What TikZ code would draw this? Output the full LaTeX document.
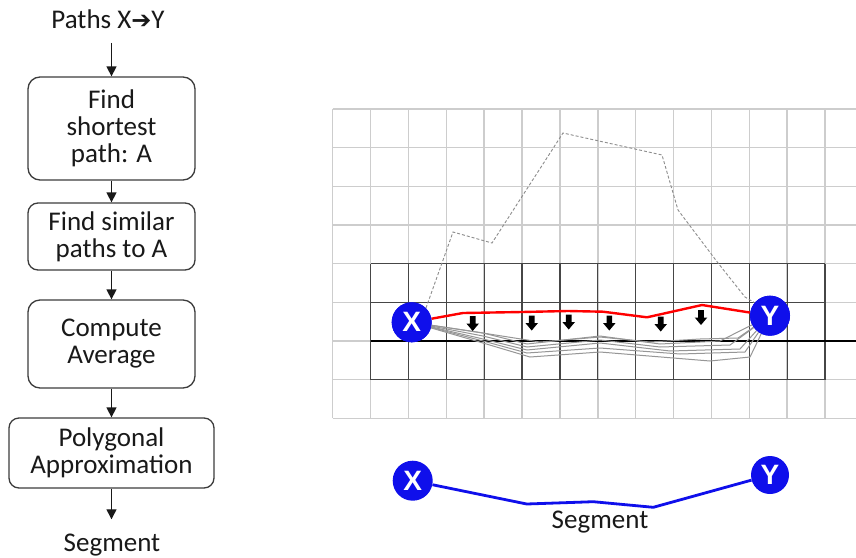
\documentclass[tikz,border=0pt]{standalone}
\usepackage{fontspec}
\setmainfont{Carlito}
\newfontfamily\lsans{Liberation Sans}
\newfontfamily\djv{DejaVu Sans}
\usetikzlibrary{arrows.meta}
\definecolor{nodeblue}{RGB}{15,15,235}
\definecolor{boxline}{RGB}{60,60,60}
\definecolor{lightgrid}{RGB}{205,205,205}
\definecolor{darkgrid}{RGB}{70,70,70}
\definecolor{simpath}{RGB}{150,150,150}
\definecolor{dashcol}{RGB}{140,140,140}
\begin{document}
\begin{tikzpicture}[x=1pt,y=-1pt,
  flowbox/.style={draw=boxline, line width=1.3pt, rounded corners=12pt, align=center,
    font=\fontsize{27}{27}\selectfont, text=black!90, inner sep=0pt},
  flowtext/.style={font=\fontsize{27}{27}\selectfont, text=black!90, inner sep=0pt},
  flow/.style={line width=1.4pt, draw=black!90, -{Triangle[length=10pt,width=10pt]}},
  endpt/.style={circle, fill=nodeblue, text=white, font=\lsans\bfseries\fontsize{28}{28}\selectfont,
    minimum size=40pt, inner sep=0pt},
  downarrow/.pic={\fill[black] (-2.8,-7.5) -- (2.8,-7.5) -- (2.8,0) -- (6.3,0) -- (0,7.5) -- (-6.3,0) -- (-2.8,0) -- cycle;},
  lightline/.style={draw=lightgrid, line width=1.5pt},
  darkline/.style={draw=darkgrid, line width=1.2pt},
  redpath/.style={draw=red, line width=2.4pt, line join=round},
  simline/.style={draw=simpath, line width=1pt, line join=round},
  dashline/.style={draw=dashcol, line width=0.9pt, densely dashed},
  bluepath/.style={draw=nodeblue, line width=2.8pt, line join=round}]
\useasboundingbox (0,0) rectangle (856,557);
\fill[white] (0,0) rectangle (856,557);

% ---------- flowchart ----------
\node[flowtext, anchor=base] (paths) at (108,28.5) {Paths X{\djv\bfseries\fontsize{24}{24}\selectfont ➔}Y};
\node[flowbox, minimum width=167pt, minimum height=103pt] (b1) at (111.5,128.5) {Find\\shortest\\path: A};
\node[flowbox, rounded corners=10pt, minimum width=167pt, minimum height=67pt] (b2) at (111.5,236.5) {Find similar\\paths to A};
\node[flowbox, minimum width=167pt, minimum height=88pt] (b3) at (111.5,344) {Compute\\Average};
\node[flowbox, rounded corners=10pt, minimum width=205pt, minimum height=70pt] (b4) at (111.5,453) {Polygonal\\Approximation};
\node[flowtext, anchor=base] (seg) at (112,551) {Segment};

\draw[flow, shorten <=14pt] (b1.north |- paths.south) -- (b1.north);
\draw[flow] (b1) -- (b2);
\draw[flow] (b2) -- (b3);
\draw[flow] (b3) -- (b4);
\draw[flow, shorten >=14pt] (b4.south) -- (b4.south |- seg.north);

% ---------- grid ----------
\foreach \k in {0,...,8} {
  \draw[lightline] (332.7,109+38.66*\k) -- (856,109+38.66*\k);
}
\foreach \k in {0,...,13} {
  \draw[lightline] (332.7+37.87*\k,109) -- (332.7+37.87*\k,418.3);
}
\foreach \k in {1,...,13} {
  \draw[darkline] (332.7+37.87*\k,263.6) -- (332.7+37.87*\k,379.6);
}
\draw[darkline] (370.6,263.6) -- (825,263.6);
\draw[darkline] (370.6,302.3) -- (825,302.3);
\draw[darkline] (370.6,379.6) -- (825,379.6);
\draw[draw=black, line width=1.8pt] (370.6,340.6) -- (856,340.6);

% ---------- end points ----------
\node[endpt] (X) at (411.7,322.3) {X};
\node[endpt] (Y) at (770,315.7) {Y};

% similar paths
\draw[simline] (X) -- (470,331) -- (540,342) -- (600,337) -- (650,342) -- (700,339) -- (738,338) -- (Y);
\draw[simline] (X) -- (483,333) -- (527,344) -- (600,336) -- (660,344) -- (720,341) -- (Y);
\draw[simline] (X) -- (483,336) -- (527,347) -- (600,340) -- (660,347) -- (730,345) -- (Y);
\draw[simline] (X) -- (483,339) -- (527,350) -- (600,343) -- (670,351) -- (740,349) -- (Y);
\draw[simline] (X) -- (483,341) -- (527,353) -- (600,348) -- (680,354) -- (745,352) -- (Y);
\draw[simline] (X) -- (483,343) -- (530,357) -- (600,352) -- (710,361) -- (750,357) -- (Y);

% long detour path
\draw[dashline] (X.45) -- (453,232) -- (492,243) -- (563,133) -- (662,155) -- (678,210) -- (718,263) -- (745,297) -- (Y.140);

% shortest path A
\draw[redpath] (X) -- (463,313) -- (522,312) -- (568,311) -- (603,311.7) -- (647,317.3) -- (702,305) -- (Y);

% redraw endpoints on top
\node[endpt] at (X) {X};
\node[endpt] at (Y) {Y};

% down arrows
\pic at (472.7,323.5) {downarrow};
\pic at (531.7,323) {downarrow};
\pic at (568.7,322) {downarrow};
\pic at (609.3,323) {downarrow};
\pic at (660.7,324) {downarrow};
\pic at (701,317.5) {downarrow};

% ---------- resulting segment ----------
\node[endpt] (X2) at (412.7,480.7) {X};
\node[endpt, minimum size=38pt] (Y2) at (770,475) {Y};
\draw[bluepath] (X2) -- (526.7,504) -- (593.3,501.7) -- (653.3,507.3) -- (Y2);
\node[flowtext, anchor=base] (seg2) at (600,528.3) {Segment};
\end{tikzpicture}
\end{document}
